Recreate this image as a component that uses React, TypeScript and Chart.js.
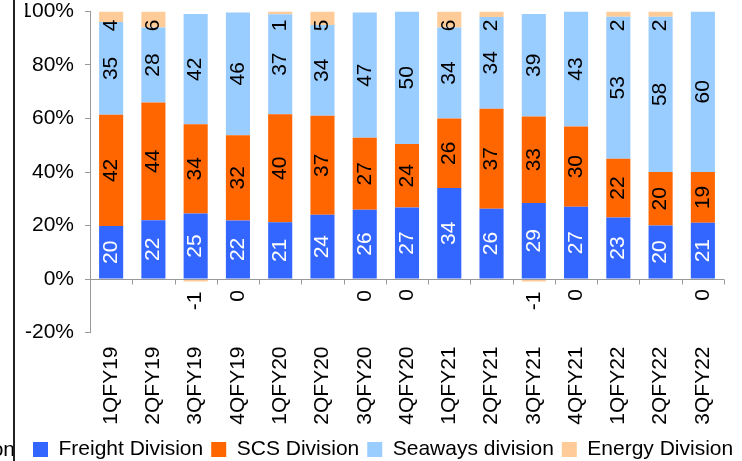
import React, { useEffect, useRef } from "react";
import { Chart, registerables } from "chart.js";

Chart.register(...registerables);

const categories = ["1QFY19", "2QFY19", "3QFY19", "4QFY19", "1QFY20", "2QFY20", "3QFY20", "4QFY20", "1QFY21", "2QFY21", "3QFY21", "4QFY21", "1QFY22", "2QFY22", "3QFY22"];
const freightDivision = [20, 22, 25, 22, 21, 24, 26, 27, 34, 26, 29, 27, 23, 20, 21];
const scsDivision = [42, 44, 34, 32, 40, 37, 27, 24, 26, 37, 33, 30, 22, 20, 19];
const seawaysDivision = [35, 28, 42, 46, 37, 34, 47, 50, 34, 34, 39, 43, 53, 58, 60];
const energyDivision = [4, 6, -1, -0.4, 1, 5, -0.4, 0, 6, 2, -1, 0, 2, 2, 0];
const seriesNames = ["Freight Division", "SCS Division", "Seaways division", "Energy Division"];
const seriesColors = ["#3366FF", "#FF6600", "#99CCFF", "#FFCC99"];
const yTickValues = [-20, 0, 20, 40, 60, 80, 100];
const legendFragment = "on";

const rawSeries = [freightDivision, scsDivision, seawaysDivision, energyDivision];
const totals = categories.map((_, i) => rawSeries.reduce((s, arr) => s + Math.abs(arr[i]), 0));
const pctSeries = rawSeries.map((arr) => arr.map((v, i) => (v / totals[i]) * 100));

const FONT = '"Liberation Sans", Arial, Helvetica, sans-serif';
const AXIS_GRAY = "#999999";

const decorPlugin = {
  id: "decor",
  afterDatasetsDraw(chart: any) {
    const ctx = chart.ctx;
    const area = chart.chartArea;
    const ys = chart.scales.y;
    const zeroPx = ys.getPixelForValue(0);
    const y0 = Math.round(zeroPx) + 0.5;
    ctx.save();
    // zero line with category tick marks
    ctx.strokeStyle = AXIS_GRAY;
    ctx.lineWidth = 1;
    ctx.beginPath();
    ctx.moveTo(area.left, y0);
    ctx.lineTo(area.right, y0);
    const n = categories.length;
    const step = (area.right - area.left) / n;
    for (let k = 0; k <= n; k++) {
      const x = Math.round(area.left + k * step) + 0.5;
      ctx.moveTo(x, y0);
      ctx.lineTo(x, y0 + 5);
    }
    ctx.stroke();

    // data labels
    ctx.font = `21px ${FONT}`;
    ctx.textAlign = "center";
    ctx.textBaseline = "middle";
    chart.data.datasets.forEach((_ds: any, di: number) => {
      const meta = chart.getDatasetMeta(di);
      meta.data.forEach((el: any, i: number) => {
        const v = rawSeries[di][i];
        const text = `${Math.round(v)}`;
        const p = el.getProps(["x", "y", "base"], true);
        const w = ctx.measureText(text).width;
        let cy;
        if (di === 3) {
          if (v > 0) {
            cy = Math.max((p.y + p.base) / 2, area.top + 8 + w / 2);
          } else {
            const bottom = v < 0 ? Math.max(p.y, p.base) : zeroPx;
            cy = bottom + 10 + w / 2;
          }
        } else {
          cy = (p.y + p.base) / 2;
        }
        ctx.save();
        ctx.translate(p.x, cy);
        ctx.rotate(-Math.PI / 2);
        ctx.fillStyle = di === 0 ? "#FFFFFF" : "#000000";
        ctx.fillText(text, 0, 0);
        ctx.restore();
      });
    });
    ctx.restore();
  },
  afterDraw(chart: any) {
    const ctx = chart.ctx;
    ctx.save();
    ctx.font = `21px ${FONT}`;
    ctx.fillStyle = "#000";
    ctx.textAlign = "right";
    ctx.textBaseline = "middle";
    ctx.fillText(legendFragment, 15, 450);
    ctx.fillStyle = "#222222";
    ctx.fillRect(13, 0, 2, chart.height);
    ctx.restore();
  },
};

export default function App() {
  const ref = useRef<HTMLCanvasElement | null>(null);
  useEffect(() => {
    document.body.style.margin = "0";
    const canvas = ref.current;
    if (!canvas) return;
    Chart.defaults.font.family = FONT;
    Chart.defaults.font.size = 21;
    Chart.defaults.color = "#000";
    const chart = new Chart(canvas, {
      type: "bar",
      data: {
        labels: categories,
        datasets: pctSeries.map((data, i) => ({
          label: seriesNames[i],
          data,
          backgroundColor: seriesColors[i],
          borderWidth: 0,
          categoryPercentage: 1,
          barPercentage: 0.57,
        })),
      },
      options: {
        responsive: false,
        animation: false,
        devicePixelRatio: 1,
        layout: { padding: { top: 11.5, left: 25, right: -20, bottom: -9 } },
        plugins: {
          tooltip: { enabled: false },
          legend: {
            position: "bottom",
            align: "start",
            labels: {
              boxWidth: 15,
              boxHeight: 15,
              padding: 8,
              color: "#000",
              font: { size: 21, family: FONT },
            },
          },
        },
        scales: {
          x: {
            stacked: true,
            grid: { display: false, drawTicks: false },
            border: { display: false },
            ticks: {
              autoSkip: false,
              minRotation: 90,
              maxRotation: 90,
              padding: 14,
              color: "#000",
              font: { size: 21 },
            },
            afterFit: (s: any) => {
              s.height = 98.5;
              s.paddingLeft = 0;
              s.paddingRight = 0;
            },
          },
          y: {
            stacked: true,
            min: yTickValues[0],
            max: yTickValues[yTickValues.length - 1],
            grid: {
              display: true,
              drawOnChartArea: false,
              drawTicks: true,
              tickLength: 5,
              color: AXIS_GRAY,
            },
            border: { display: true, color: AXIS_GRAY },
            ticks: {
              stepSize: yTickValues[1] - yTickValues[0],
              padding: 11,
              color: "#000",
              font: { size: 21 },
              callback: (v: any) => `${v}%`,
            },
            afterFit: (s: any) => {
              s.width = 65;
              s.paddingTop = 0;
              s.paddingBottom = 0;
            },
          },
          y2: {
            type: "linear",
            position: "right",
            display: true,
            grid: { display: false, drawTicks: false },
            border: { display: false },
            ticks: { display: false },
            afterFit: (s: any) => {
              s.width = 38;
              s.paddingTop = 0;
              s.paddingBottom = 0;
            },
          },
        },
      },
      plugins: [decorPlugin],
    } as any);
    return () => chart.destroy();
  }, []);
  return (
    <div style={{ width: 742, height: 461 }}>
      <canvas ref={ref} width={742} height={461} style={{ display: "block" }} />
    </div>
  );
}
